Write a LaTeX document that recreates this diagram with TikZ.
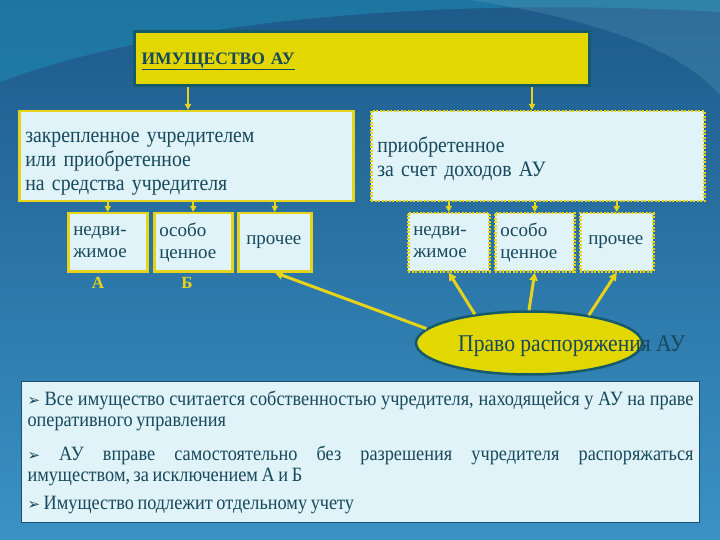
\documentclass[tikz,border=0pt]{standalone}
\usepackage{fontspec}
\setmainfont{Liberation Serif}
\newfontfamily\slim{Liberation Serif}[FakeStretch=0.9]
\newfontfamily\symfont{DejaVu Sans}
\usetikzlibrary{arrows.meta, positioning, shapes.geometric}
\definecolor{gold}{HTML}{E6D31A}
\definecolor{lemon}{HTML}{E3D700}
\definecolor{ice}{HTML}{DFF3F8}
\definecolor{ink}{HTML}{17485C}
\definecolor{deepteal}{HTML}{145A6B}
\definecolor{bgtop}{HTML}{1D5A8A}
\definecolor{bgbot}{HTML}{3A92C5}
\definecolor{swoosh}{HTML}{1E8DB4}
\definecolor{frame}{HTML}{1B4F74}
\newcommand{\pointer}{{\symfont\fontsize{15}{15}\selectfont ➢}}

\begin{document}
\begin{tikzpicture}[x=1pt, y=-1pt,
    big/.style={draw=gold, line width=2.5pt, fill=ice, text=ink,
                font=\slim\fontsize{22}{24}\selectfont, align=left,
                anchor=north west, inner xsep=6pt, minimum height=90pt},
    dbig/.style={big, dash pattern=on 2pt off 1.5pt},
    small/.style={draw=gold, line width=2.5pt, fill=ice, text=ink,
                  font=\fontsize{19}{22}\selectfont, align=left,
                  anchor=north west, inner xsep=5pt, minimum height=58pt},
    dsmall/.style={small, dash pattern=on 2pt off 1.5pt},
    tag/.style={text=gold, font=\bfseries\fontsize{17}{17}\selectfont},
    a/.style={-{Triangle[length=6pt, width=6pt]}, draw=gold, line width=2pt},
    fat/.style={-{Triangle[length=8pt, width=8pt]}, draw=gold, line width=3pt}]
  % background
  \useasboundingbox (0,0) rectangle (720,540);
  \shade[top color=bgtop, bottom color=bgbot] (0,0) rectangle (720,540);
  \fill[swoosh, opacity=.55] (0,0) -- (0,82) .. controls (150,25) and (420,-5) .. (720,12) -- (720,0) -- cycle;
  \fill[swoosh!60!white, opacity=.2] (470,0) .. controls (600,20) and (680,50) .. (720,95) -- (720,0) -- cycle;

  % top
  \node[draw=deepteal, line width=3pt, fill=lemon, text=ink, anchor=north west,
        font=\bfseries\fontsize{17.5}{17.5}\selectfont, inner xsep=7pt, inner ysep=4pt,
        text width=441pt, align=left, text height=29pt, text depth=17pt]
    (root) at (133,30) {\underline{ИМУЩЕСТВО АУ}};

  % two kinds
  \node[big, text width=322pt] (own) at (18,110)
    {\rule{0pt}{25pt}закрепленное учредителем\\или приобретенное\\на средства учредителя};
  \node[dbig, text width=321pt] (earn) at (370,110)
    {\rule{0pt}{21pt}приобретенное\\за счет доходов АУ};

  % left row
  \node[small, text width=69pt] (ln) at (67,212) {недви-\\жимое};
  \node[small, text width=68pt] (lv) at (153,212) {особо\\ценное};
  \node[small, inner xsep=8pt, text width=57pt] (lp) at (237,212) {прочее};
  % right row
  \node[dsmall, text width=71pt] (rn) at (407,212) {недви-\\жимое};
  \node[dsmall, text width=69pt] (rv) at (494,212) {особо\\ценное};
  \node[dsmall, inner xsep=8pt, text width=57pt] (rp) at (579,212) {прочее};

  \node[tag] (ta) at (98,283) {А};
  \node[tag] (tb) at (187,283) {Б};

  % disposal right
  \node[ellipse, draw=deepteal, line width=2.5pt, fill=lemon,
        minimum width=226pt, minimum height=63pt] (ell) at (529,343) {};
  \node[text=ink, anchor=base west, font=\slim\fontsize{24}{24}\selectfont, inner sep=0pt] (elabel)
    at (458,351) {Право распоряжения АУ};

  \draw[a] (root.south -| 188,0) -- (188,110);
  \draw[a] (root.south -| 532,0) -- (532,110);
  \foreach \b in {ln, lv, lp}
    \draw[a] (own.south -| \b.north) -- (\b.north);
  \foreach \b in {rn, rv, rp}
    \draw[a] (earn.south -| \b.north) -- (\b.north);
  \draw[fat] (ell.152) -- (rn.south);
  \draw[fat] (ell.north) -- (rv.south);
  \draw[fat] (ell.25) -- (rp.south);
  \draw[fat] (ell.172) -- (lp.south);

  % notes
  \node[draw=frame, line width=1pt, fill=ice, text=ink, anchor=north west,
        minimum width=678pt, minimum height=141pt, inner xsep=5pt, inner ysep=8pt,
        text width=666pt, align=justify, font=\slim\fontsize{20.3}{21}\selectfont]
    (notes) at (21,381)
    {\spaceskip=3.6pt plus 8pt minus 1.2pt
     \pointer{} Все имущество считается собственностью учредителя, находящейся у АУ на праве\linebreak
     оперативного управления\par\vspace{13pt}
     \pointer{} АУ вправе самостоятельно без разрешения учредителя распоряжаться\linebreak
     имуществом, за исключением А и Б\par\vspace{7pt}
     \pointer{} Имущество подлежит отдельному учету};
\end{tikzpicture}
\end{document}
